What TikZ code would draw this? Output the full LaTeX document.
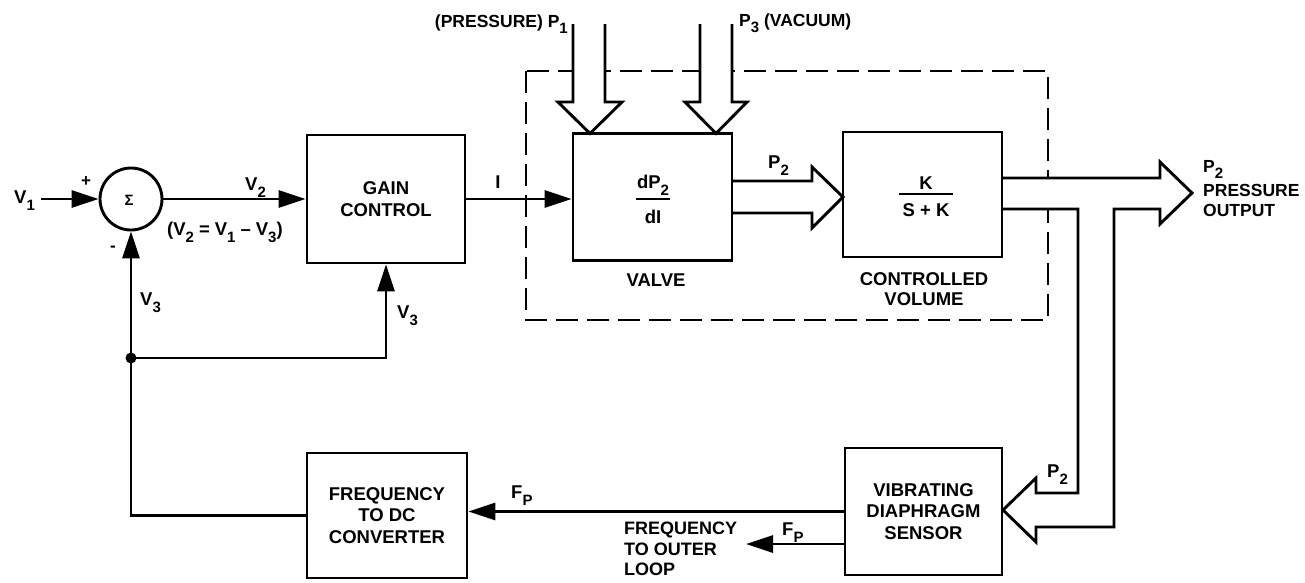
\documentclass[tikz,border=0pt]{standalone}
\usepackage{fontspec}
\setmainfont{Liberation Sans}
\usetikzlibrary{arrows.meta}
\newcommand\txt{\fontsize{18.5}{21.5}\selectfont\bfseries}
\newcommand\lowr[1]{\raisebox{-0.38em}{\fontsize{15}{15}\selectfont #1}}
\newcommand\wsp{\hspace{5pt}}
\tikzset{
  block/.style={draw, line width=2.9pt, align=center, inner sep=0pt},
  lab/.style={inner sep=0pt},
  conn/.style={line width=2.9pt},
  arr/.style={line width=2.9pt, -{Triangle[length=27pt,width=17pt]}},
  hollow/.style={line width=2.9pt, fill=white, line join=miter},
  frame/.style={line width=2.6pt, dash pattern=on 22pt off 9pt},
  fracrule/.style={line width=1.8pt},
}
\begin{document}
\begin{tikzpicture}[x=1pt, y=-1pt, font=\txt]
\useasboundingbox (0,0) rectangle (1305,582);

% dashed enclosure
\draw[frame] (526,71) rectangle (1048,320);

% hollow (pressure) arrows
\draw[hollow] (573,24) -- (573,102) -- (558,102) -- (590,133.5) -- (622,102) -- (605,102) -- (605,24);
\draw[hollow] (700,24) -- (700,102) -- (685,102) -- (716,133.5) -- (747,102) -- (732,102) -- (732,24);
\draw[hollow] (732,181) -- (812,181) -- (812,167) -- (843,197) -- (812,228) -- (812,213) -- (732,213);
\draw[hollow] (1002,178) -- (1160,178) -- (1160,162) -- (1192,193) -- (1160,224) -- (1160,209)
   -- (1114,209) -- (1114,527) -- (1036,527) -- (1036,542) -- (1003,510) -- (1036,478)
   -- (1036,493) -- (1078,493) -- (1078,209) -- (1002,209);

% blocks
\node[block, circle, minimum size=62pt] (sum) at (131,199) {};
\node[lab, font=\fontsize{15}{15}\selectfont\bfseries] (sigma) at (129,200) {Σ};
\node[block, minimum width=158pt, minimum height=128pt] (gain) at (386,199) {GAIN\\CONTROL};
\node[block, minimum width=159pt, minimum height=127pt] (valve) at (652.5,197) {};
\node[block, minimum width=159pt, minimum height=125pt] (cv) at (922.5,194.5) {};
\node[block, minimum width=157pt, minimum height=127pt] (sensor) at (923.5,511.5) {VIBRATING\\DIAPHRAGM\\SENSOR};
\node[block, minimum width=160pt, minimum height=125pt] (fdc) at (387,515.5) {FREQUENCY\\TO DC\\CONVERTER};

% fractions
\node[lab, anchor=base] (dpn) at (653,188) {dP\lowr{2}};
\node[lab, anchor=base] (dpd) at (653,223) {dI};
\draw[fracrule] (636,199) -- (670,199);
\node[lab, anchor=base] (kn) at (926,189) {K};
\node[lab, anchor=base] (kd) at (926,216) {S + K};
\draw[fracrule] (899,194) -- (953,194);

% labels
\node[lab, anchor=base west] (v1) at (14,203) {V\lowr{1}};
\node[lab, font=\fontsize{17}{17}\selectfont\bfseries] (plus) at (86,182) {+};
\node[lab, font=\fontsize{17}{17}\selectfont\bfseries] (minus) at (113,249) {-};
\node[lab, anchor=base west] (v2) at (245,190) {V\lowr{2}};
\node[lab, anchor=base west] (eq) at (167,235) {(V\lowr{2}\wsp=\wsp V\lowr{1}\wsp--\wsp V\lowr{3})};
\node[lab, anchor=base west] (v3a) at (140,305) {V\lowr{3}};
\node[lab, anchor=base west] (v3b) at (397,318) {V\lowr{3}};
\node[lab, anchor=base] (ilab) at (498,188) {I};
\node[lab, anchor=base east, font=\fontsize{17.5}{21}\selectfont\bfseries] (p1lab) at (568,27) {(PRESSURE) P\lowr{1}};
\node[lab, anchor=base west, font=\fontsize{17.5}{21}\selectfont\bfseries] (p3lab) at (739,26) {P\lowr{3} (VACUUM)};
\node[lab, anchor=base west] (p2a) at (768,168) {P\lowr{2}};
\node[lab] (valvelab) at (656,280) {VALVE};
\node[lab, align=center, font=\fontsize{18.5}{19.5}\selectfont\bfseries] (cvlab) at (924,289) {CONTROLLED\\VOLUME};
\node[lab, anchor=north west, align=left, font=\fontsize{17.5}{20}\selectfont\bfseries] (outlab) at (1203,160) {P\lowr{2}\\[4pt]PRESSURE\\OUTPUT};
\node[lab, anchor=base west] (p2b) at (1047,477) {P\lowr{2}};
\node[lab, anchor=base west] (fp1) at (511,498) {F\lowr{P}};
\node[lab, anchor=base west] (fp2) at (782,535) {F\lowr{P}};
\node[lab, anchor=north west, align=left, font=\fontsize{18}{20.5}\selectfont\bfseries] (outer) at (624,522) {FREQUENCY\\TO OUTER\\LOOP};

% connectors
\coordinate (j) at (131,358);
\coordinate (outtip) at (746,544);
\draw[arr] ([xshift=6pt]v1.east |- sum.west) -- (sum.west);
\draw[arr] (sum.east) -- (gain.west);
\draw[arr] (gain.east) -- (gain.east -| valve.west);
\draw[arr] (fdc.west) -| (sum.south);
\draw[arr] (j) -| (gain.south);
\fill (j) circle (5.5pt);
\draw[arr] (sensor.west) -- (sensor.west -| fdc.east);
\draw[arr] (sensor.west |- outtip) -- (outtip);
\end{tikzpicture}
\end{document}
